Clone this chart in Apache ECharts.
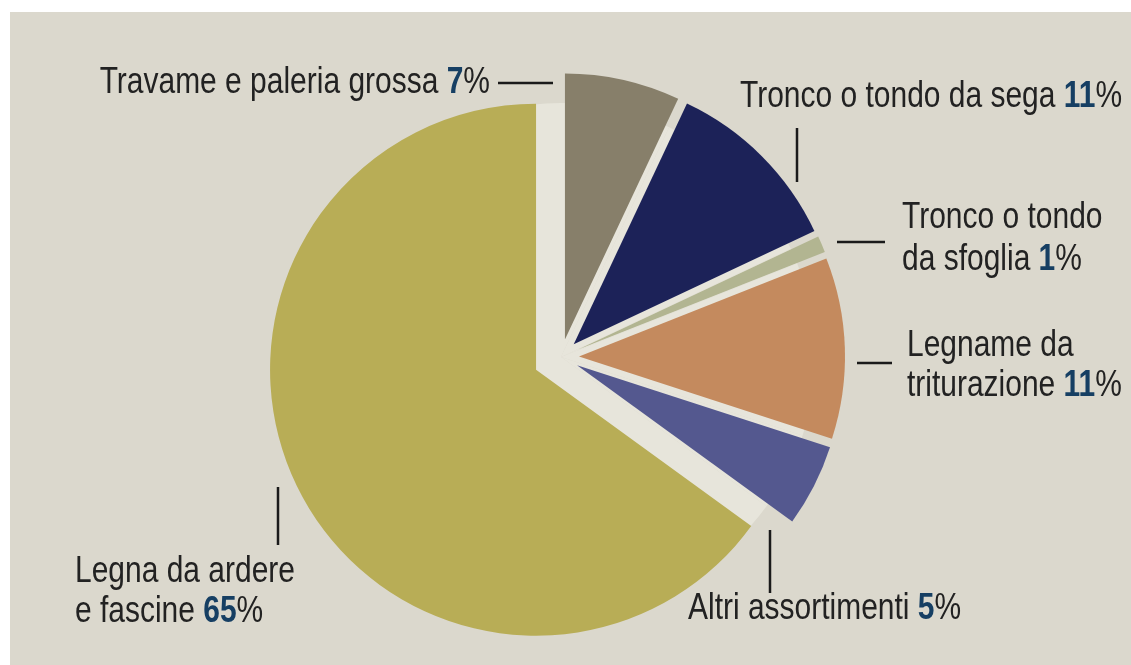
<!DOCTYPE html>
<html>
<head>
<meta charset="utf-8">
<script src="https://cdn.jsdelivr.net/npm/echarts@6/dist/echarts.min.js"></script>
<style>
	html, body { margin: 0; padding: 0; background: #fff; }
	#bg { position: absolute; left: 10px; top: 12px; width: 1121px; height: 653px; background: #dbd8cd; }
	#pieChart { position: absolute; left: 0; top: 0; width: 1131px; height: 665px; }
</style>
</head>
<body>
<div id="bg"></div>
<div id="pieChart"></div>
<script>
// assortimenti legnosi, in senso orario dalle ore 12
var names = ['Travame e paleria grossa', 'Tronco o tondo da sega', 'Tronco o tondo\nda sfoglia', 'Legname da\ntriturazione', 'Altri assortimenti', 'Legna da ardere\ne fascine'];
var values = [7, 11, 1, 11, 5, 65];
var colors = ['#877f6a', '#1c2258', '#b2b591', '#c48a5e', '#54588f', '#b8ad56'];

// posizione delle etichette (ancora del testo) e dei trattini
var labelPos = [
	{ x: 490, y: 83, align: 'right', lh: 42, line: [[498, 83], [553, 83]] },
	{ x: 740, y: 97, align: 'left', lh: 42, line: [[797, 128], [797, 182]] },
	{ x: 902, y: 239, align: 'left', lh: 42, line: [[837, 242], [885, 242]] },
	{ x: 907, y: 366, align: 'left', lh: 40, line: [[857, 363], [892, 363]] },
	{ x: 688, y: 609, align: 'left', lh: 42, line: [[770, 530], [770, 593]] },
	{ x: 75, y: 592, align: 'left', lh: 40, line: [[278, 487], [278, 545]] }
];

var font = '"Liberation Sans", Arial, sans-serif';
var center = [561, 357];
var radius = 266;
var bigIndex = 5;

// disco chiaro sotto le fette (si vede negli spazi)
var plateData = [];
// fette piccole e fetta grande, staccate con distanze diverse
var smallData = [];
var bigData = [];
for (var i = 0; i < names.length; i++) {
	plateData.push({ name: names[i], value: values[i], itemStyle: { color: '#e7e5db' } });
	smallData.push({
		name: names[i],
		value: values[i],
		selected: i !== bigIndex,
		itemStyle: { color: i !== bigIndex ? colors[i] : 'transparent' }
	});
	bigData.push({
		name: names[i],
		value: values[i],
		selected: i === bigIndex,
		itemStyle: { color: i === bigIndex ? colors[i] : 'transparent' }
	});
}

var graphics = [];
for (var i = 0; i < names.length; i++) {
	var lp = labelPos[i];
	var lines = names[i].split('\n');
	var txt = lines.map(function(l) { return '{n|' + l + '}'; }).join('\n') + '{n| }{p|' + values[i] + '}{n|%}';
	graphics.push({
		type: 'text',
		x: lp.x,
		y: lp.y,
		scaleX: 0.81,
		silent: true,
		style: {
			text: txt,
			align: lp.align,
			verticalAlign: 'middle',
			rich: {
				n: { fontFamily: font, fontSize: 37, fill: '#222', lineHeight: lp.lh },
				p: { fontFamily: font, fontSize: 37, fontWeight: 'bold', fill: '#163f63', lineHeight: lp.lh }
			}
		}
	});
	graphics.push({
		type: 'polyline',
		silent: true,
		shape: { points: lp.line },
		style: { stroke: '#1a1a1a', lineWidth: 2.5, fill: null }
	});
}

var common = {
	type: 'pie',
	center: center,
	startAngle: 90,
	clockwise: true,
	silent: true,
	label: { show: false },
	labelLine: { show: false },
	emphasis: { disabled: true }
};

var pieChart = echarts.init(document.getElementById('pieChart'));
pieChart.setOption({
	animation: false,
	graphic: graphics,
	series: [
		echarts.util.merge({ data: plateData, radius: 254, selectedMode: false }, common),
		echarts.util.merge({ data: bigData, radius: radius, selectedMode: 'multiple', selectedOffset: 28 }, common),
		echarts.util.merge({ data: smallData, radius: radius, selectedMode: 'multiple', selectedOffset: 18 }, common)
	]
});
</script>
</body>
</html>
